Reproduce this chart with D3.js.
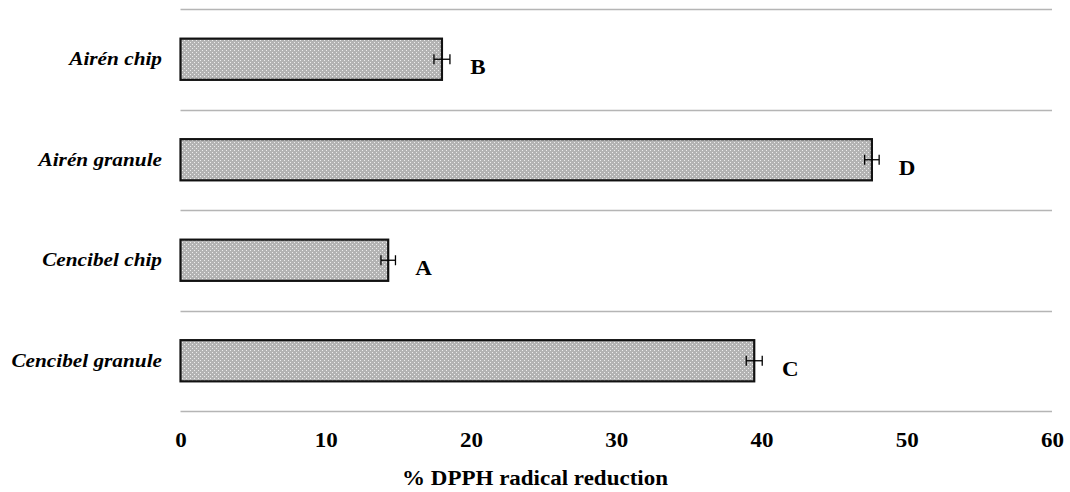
<!DOCTYPE html>
<html>
<head>
<meta charset="utf-8">
<script src="https://cdn.jsdelivr.net/npm/d3@7"></script>
<style>
  body { margin: 0; background: #fff; }
  svg { display: block; }
</style>
</head>
<body>
<div id="chart"></div>
<script>
// values
var categories = ["Airén chip", "Airén granule", "Cencibel chip", "Cencibel granule"];
var values = [18.0, 47.6, 14.3, 39.5];
var errors = [0.55, 0.5, 0.5, 0.55];
var letters = ["B", "D", "A", "C"];
var xTicks = [0, 10, 20, 30, 40, 50, 60];

var w = 1070, h = 492;
var serif = "'Liberation Serif', 'Times New Roman', serif";
var stretch = 1.15; // the original text is a bit wider than Times

var svg = d3.select("#chart").append("svg")
  .attr("width", w)
  .attr("height", h);

// dotted grey fill like the original
var defs = svg.append("defs");
var pat = defs.append("pattern")
  .attr("id", "dots")
  .attr("patternUnits", "userSpaceOnUse")
  .attr("width", 4)
  .attr("height", 4);
pat.append("rect").attr("width", 4).attr("height", 4).attr("fill", "#b3b3b3");
pat.append("rect").attr("x", 0).attr("y", 0).attr("width", 1).attr("height", 1).attr("fill", "#eeeeee");
pat.append("rect").attr("x", 2).attr("y", 2).attr("width", 1).attr("height", 1).attr("fill", "#eeeeee");

var x = d3.scaleLinear().domain([0, 60]).range([180.5, 1052]);
var y = d3.scaleBand()
  .domain(categories)
  .range([9, 411])
  .paddingInner(0.59)
  .paddingOuter(0.295);

var step = y.step();

function place(px, py) {
  return "translate(" + px + "," + py + ") scale(" + stretch + ",1)";
}

// horizontal gridlines between categories
var gridY = d3.range(categories.length + 1).map(function(i) { return 9 + i * step; });
svg.selectAll(".grid")
  .data(gridY)
  .enter().append("line")
  .attr("class", "grid")
  .attr("x1", x(0))
  .attr("x2", x(60))
  .attr("y1", function(d) { return Math.round(d) + 0.5; })
  .attr("y2", function(d) { return Math.round(d) + 0.5; })
  .attr("stroke", "#b5b5b5")
  .attr("stroke-width", 1.3);

// bars
svg.selectAll(".bar")
  .data(values)
  .enter().append("rect")
  .attr("class", "bar")
  .attr("x", x(0))
  .attr("y", function(d, i) { return y(categories[i]); })
  .attr("width", function(d) { return x(d) - x(0); })
  .attr("height", y.bandwidth())
  .attr("fill", "url(#dots)")
  .attr("stroke", "#111")
  .attr("stroke-width", 2.2);

// error bars
var eb = svg.selectAll(".err")
  .data(values)
  .enter().append("g")
  .attr("class", "err")
  .attr("transform", function(d, i) {
    return "translate(0," + (y(categories[i]) + y.bandwidth() / 2) + ")";
  });
eb.append("line")
  .attr("x1", function(d, i) { return x(d - errors[i]); })
  .attr("x2", function(d, i) { return x(d + errors[i]); })
  .attr("stroke", "#000").attr("stroke-width", 1.3);
eb.append("line")
  .attr("x1", function(d, i) { return x(d - errors[i]); })
  .attr("x2", function(d, i) { return x(d - errors[i]); })
  .attr("y1", -5).attr("y2", 5)
  .attr("stroke", "#000").attr("stroke-width", 1.3);
eb.append("line")
  .attr("x1", function(d, i) { return x(d + errors[i]); })
  .attr("x2", function(d, i) { return x(d + errors[i]); })
  .attr("y1", -5).attr("y2", 5)
  .attr("stroke", "#000").attr("stroke-width", 1.3);

// significance letters
svg.selectAll(".letter")
  .data(values)
  .enter().append("text")
  .attr("class", "letter")
  .attr("transform", function(d, i) {
    return place(x(d + errors[i]) + 28, y(categories[i]) + y.bandwidth() / 2 + 15);
  })
  .attr("text-anchor", "middle")
  .style("font-family", serif)
  .style("font-size", "20px")
  .style("font-weight", "bold")
  .text(function(d, i) { return letters[i]; });

// category labels
svg.selectAll(".cat")
  .data(categories)
  .enter().append("text")
  .attr("class", "cat")
  .attr("transform", function(d) { return place(162, y(d) + y.bandwidth() / 2 + 6); })
  .attr("text-anchor", "end")
  .style("font-family", serif)
  .style("font-size", "18.5px")
  .style("font-weight", "bold")
  .style("font-style", "italic")
  .text(function(d) { return d; });

// x axis tick labels
var axis = d3.axisBottom(x).tickValues(xTicks).tickSize(0).tickPadding(0);
var ax = svg.append("g")
  .attr("transform", "translate(0,433)")
  .call(axis);
ax.select(".domain").remove();
ax.selectAll("text")
  .attr("transform", "scale(" + stretch + ",1)")
  .style("font-family", serif)
  .style("font-size", "20px")
  .style("font-weight", "bold")
  .style("fill", "#000");

// axis title
svg.append("text")
  .attr("transform", place(535, 485))
  .attr("text-anchor", "middle")
  .style("font-family", serif)
  .style("font-size", "20px")
  .style("font-weight", "bold")
  .text("% DPPH radical reduction");
</script>
</body>
</html>
